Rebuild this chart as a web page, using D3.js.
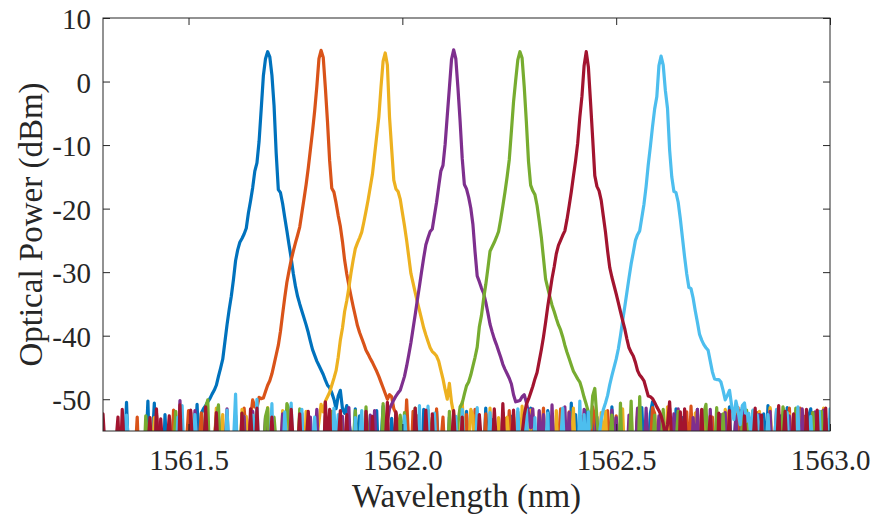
<!DOCTYPE html>
<html>
<head>
<meta charset="utf-8">
<script src="https://cdn.jsdelivr.net/npm/d3@7"></script>
<style>
  body { margin: 0; background: #fff; }
  svg { display: block; }
</style>
</head>
<body>
<svg id="chart" width="875" height="517"></svg>
<script>
// OSA sample spacing (nm)
const STEP = 0.005;

const xTicks = [1561.5, 1562.0, 1562.5, 1563.0];
const yTicks = [10, 0, -10, -20, -30, -40, -50];
const xTitle = "Wavelength (nm)";
const yTitle = "Optical Power (dBm)";

// Each channel trace is a list of [start wavelength (nm), power samples (dBm)] runs.
const ch1 = [
  [1561.300, [
    -63,-59,-66,-61,-58,-64,-60,-67,-57,-62,
    -59,-50.5,-60,-64,-58,-62,-66,-59,-63,-61,
    -58,-50.3,-62,-57,-50.6,-60,-65,-59,-62,-52.4,
    -60,-64,-58,-52.8,-61,-57,-63,-59,-65,-60,
    -58,-52.0,-62,-57,-50.8,-59,-52.2]],
  [1561.535, [
    -51.5,-51.0,-50.4,-49.9,-49.2,-48.6,-47.8,-46.4,-45.1,-43.7,
    -41.0,-38.3,-35.9,-33.8,-31.2,-28.2,-26.5,-25.3,-24.7,-24.0,
    -23.1,-20.7,-18.8,-16.7,-14.1,-12.8,-9.4,-4.3,0.9,3.6,
    4.7,
    3.9,1.0,-3.8,-11.3,-17.0,-17.5,-19.2,-21.4,-23.5,-25.7,
    -27.8,-30.2,-32.2,-33.8,-35.0,-36.1,-37.2,-38.3,-39.5,-40.9,
    -42.2,-43.1,-44.0,-44.7,-45.4,-46.1,-47.0,-47.8,-48.2,-49.0,
    -50.0,-51.5,-49.5,-48.6,-51.5,-52.2,-51.0,-53.5]],
  [1561.880, [
    -56,-61,-51.5,-59,-52.6,-57,-62,-58,-66,-60,
    -63,-59,-51.8,-61,-57,-51.1,-60,-58,-63,-53.0,
    -60,-52.3,-58,-62,-57,-61,-52.5,-64,-59,-62,
    -58,-53.2,-60,-63,-51.6,-59,-62,-57,-66,-61,
    -51.9,-58,-61,-57,-63,-60,-52.8,-65,-59,-62,
    -57,-61,-52.5,-58,-51.9,-60,-63,-59,-66,-58,
    -62,-57,-60,-51.4,-59,-63,-53.2,-58,-61,-64,
    -59,-52.1,-62,-57,-60,-52.7,-58,-63,-61,-57,
    -53.0,-60,-58,-62,-51.4,-59,-65,-61,-57,-63,
    -60,-58,-51.8,-53.4,-61,-59,-62,-57,-64,-60,
    -58,-63,-61,-50.6,-59,-52.4,-57,-62,-60,-58,
    -51.7,-61,-59,-52.0,-62,-57,-66,-60,-58,-63,
    -59,-61,-51.2,-58,-52.9,-60,-57,-62,-65,-59,
    -61,-58,-63,-57,-52.6,-60,-51.3,-59,-62,-58,
    -52.2,-50.4,-60,-57,-63,-61,-58,-65,-59,-62,
    -57,-60,-51.5,-58,-62,-52.9,-59,-66,-61,-57,
    -63,-59,-51.6,-61,-58,-52.7,-60,-57,-62,-65,
    -59,-61,-58,-63,-53.1,-60,-57,-51.2,-62,-58,
    -52.4,-60,-51.8,-59,-62,-57,-63,-61,-58,-66,
    -60,-57,-62,-52.3,-59,-51.0,-61,-58,-63,-57,
    -61,-52.6,-59,-62,-51.3,-58,-60,-64,-57,-63,
    -59,-62,-58,-61,-52.7,-51.5,-60,-57,-63,-59,
    -62,-58,-53.0,-61,-64]]
];

const ch2 = [
  [1561.300, [
    -61,-58,-64,-60,-66,-57,-62,-59,-65,-60,
    -58,-63,-61,-57,-64,-59,-52.8,-62,-66,-58,
    -60,-57,-63,-59,-61,-52.1,-58,-62,-60,-64,
    -57,-61,-59,-51.7,-63,-58,-53.3,-60,-62,-57,
    -51.8,-59,-61,-58,-63,-57,-52.2,-65,-60,-62,
    -58,-61,-57,-52.6,-59,-62,-66,-58,-60,-63,
    -57,-61,-52.5,-59,-64,-58,-51.4,-56]],
  [1561.640, [
    -56.0,-53.0,-50.1,-51.2,-51.4,-49.7,-49.9,-49.8,-48.8,-47.8,
    -47.1,-46.0,-44.5,-43.0,-41.5,-39.3,-36.6,-34.0,-31.6,-29.8,
    -28.1,-26.7,-25.4,-24.2,-22.9,-20.7,-18.5,-16.2,-13.6,-10.7,
    -7.8,-4.6,-0.8,3.6,
    4.9,
    3.8,-1.0,-6.4,-12.5,-16.8,-17.4,-19.1,-21.1,-22.8,-25.2,
    -28.1,-30.3,-32.1,-33.8,-35.4,-36.9,-38.4,-39.5,-40.4,-41.3,
    -42.3,-42.9,-43.6,-44.2,-44.9,-45.6,-46.4,-47.3,-48.2,-49.1,
    -50.0,-49.3,-49.6,-51.5,-52.2,-53.5,-55.5,-53.8,-58,-50.1,
    -57]],
  [1562.020, [
    -60,-51.9,-58,-52.6,-62,-57,-61,-59,-65,-60,
    -58,-63,-51.5,-61,-57,-52.8,-60,-59,-62,-66,
    -57,-61,-58,-63,-50.9,-60,-52.4,-59,-62,-58,
    -51.6,-57,-60,-62,-59,-52.3,-63,-58,-61,-66,
    -59,-62,-57,-60,-53.0,-58,-51.8,-61,-63,-59,
    -52.0,-58,-61,-57,-62,-60,-59,-52.9,-64,-58,
    -61,-57,-51.4,-63,-59,-62,-52.7,-58,-60,-57,
    -51.5,-61,-58,-62,-52.0,-59,-57,-63,-60,-65,
    -58,-62,-59,-61,-57,-51.2,-52.9,-60,-58,-63,
    -59,-61,-51.8,-57,-62,-58,-52.6,-60,-64,-59,
    -62,-57,-61,-58,-63,-60,-51.6,-53.1,-59,-62,
    -58,-61,-57,-51.3,-52.2,-60,-59,-62,-66,-58,
    -63,-51.4,-60,-57,-61,-59,-52.5,-58,-62,-52.0,
    -60,-51.1,-58,-61,-57,-63,-51.7,-59,-62,-60,
    -58,-52.8,-61,-57,-52.4,-62,-59,-66,-60,-58,
    -63,-57,-61,-51.3,-59,-52.6,-58,-62,-60,-57,
    -51.9,-59,-52.1,-61,-58,-63,-57,-60,-51.6,-64,
    -59,-62,-58,-61,-57,-52.5,-60,-51.4,-58,-63,
    -61,-57,-51.4,-59,-52.7,-60,-58,-62,-52.1,-57,
    -63,-60,-58,-51.8,-61,-59,-64]]
];

const ch3 = [
  [1561.300, [
    -62,-59,-65,-57,-61,-64,-58,-60,-66,-63,
    -57,-61,-59,-64,-58,-62,-60,-57,-65,-59,
    -61,-58,-63,-60,-52.9,-57,-62,-59,-64,-58,
    -60,-63,-57,-61,-52.9,-59,-51.7,-58,-62,-60,
    -57,-52.2,-59,-61,-58,-63,-60,-66,-57,-62,
    -59,-61,-58,-51.4,-60,-57,-52.4,-62,-59,-65,
    -58,-61,-63,-57,-60,-51.6,-59,-52.7,-58,-62,
    -52.1,-57,-61,-59,-63,-58,-60,-51.3,-64,-57,
    -62,-59,-58,-61,-51.8,-57,-52.8,-60,-63,-58,
    -61,-59,-52.5,-57,-62,-51.9,-60,-58,-65,-57]],
  [1561.800, [
    -56.0,-53.5,-50.8,-52.0,-50.3,-49.6,-48.9,-47.8,-46.7,-45.5,
    -43.4,-40.7,-38.8,-36.2,-34.5,-32.4,-30.1,-28.1,-26.3,-25.4,
    -24.6,-23.7,-22.1,-20.4,-18.6,-16.6,-14.6,-11.6,-8.6,-5.6,
    -0.9,3.2,
    4.5,
    2.6,-5.6,-10.6,-15.5,-16.9,-17.3,-18.5,-20.6,-22.7,-25.0,
    -27.6,-30.2,-31.7,-33.2,-34.7,-36.0,-37.4,-38.8,-39.9,-40.9,
    -41.9,-42.5,-42.8,-43.2,-44.0,-45.4,-46.8,-48.5,-50.0,-47.5,
    -50.5,-52.3,-54.8,-58,-56,-50.4,-57]],
  [1562.150, [
    -61,-58,-51.6,-52.5,-60,-57,-62,-59,-66,-58,
    -63,-51.4,-60,-57,-61,-52.9,-58,-62,-59,-52.8,
    -57,-61,-52.3,-58,-60,-63,-51.1,-59,-62,-57,
    -51.7,-60,-58,-61,-52.0,-66,-59,-62,-57,-60,
    -58,-63,-51.8,-61,-59,-52.6,-57,-62,-60,-58,
    -51.4,-59,-61,-57,-52.7,-63,-60,-58,-62,-66,
    -57,-61,-59,-52.1,-58,-51.9,-60,-63,-57,-62,
    -59,-61,-58,-51.5,-60,-57,-63,-52.4,-59,-62,
    -58,-52.8,-60,-57,-61,-59,-66,-62,-58,-63,
    -57,-52.8,-60,-59,-51.2,-58,-62,-61,-57,-65,
    -59,-62,-58,-60,-63,-57,-61,-52.2,-51.9,-59,
    -62,-58,-52.5,-60,-57,-61,-59,-63,-58,-62,
    -60,-51.6,-52.6,-57,-61,-59,-65,-58,-62,-60,
    -57,-63,-59,-61,-58,-52.9,-60,-51.9,-62,-57,
    -61,-59,-51.3,-58,-60,-63,-57,-62,-59,-61,
    -58,-52.3,-64,-60,-57,-62,-59,-51.7,-58,-61,
    -63,-57,-60,-59,-62,-52.6,-58,-51.4,-61,-57,
    -60]]
];

const ch4 = [
  [1561.300, [
    -60,-64,-57,-62,-59,-66,-58,-61,-63,-57,
    -61,-59,-65,-58,-62,-60,-57,-64,-59,-61,
    -58,-63,-60,-57,-62,-52.4,-59,-61,-58,-64,
    -60,-57,-63,-59,-61,-58,-50.2,-62,-60,-65,
    -57,-61,-59,-51.8,-58,-62,-60,-57,-63,-59,
    -61,-58,-66,-60,-52.6,-62,-57,-59,-51.5,-61,
    -58,-63,-60,-57,-62,-59,-52.7,-61,-58,-60,
    -51.9,-57,-61,-59,-63,-58,-52.9,-60,-62,-66,
    -57,-59,-61,-58,-52.3,-60,-62,-57,-59,-63,
    -61,-58,-60,-52.2,-65,-57,-62,-52.8,-61,-58,
    -51.6,-60,-57,-63,-59,-62,-58,-61,-66,-57,
    -60,-59,-52.7,-62,-58,-51.3,-61,-57,-60,-63,
    -59,-62,-58,-61,-57,-52.5,-60,-51.8,-59,-62,
    -58,-61]],
  [1561.960, [
    -57.0,-53.5,-51.5,-50.8,-50.1,-49.5,-49.0,-48.6,-47.5,-46.4,
    -44.8,-43.0,-41.1,-38.9,-36.7,-34.4,-32.2,-29.9,-27.7,-25.7,
    -24.6,-23.6,-23.2,-21.1,-19.0,-16.5,-14.1,-13.2,-9.9,-5.4,
    -1.0,3.5,
    5.0,
    3.6,-1.0,-6.2,-12.1,-16.2,-16.9,-18.2,-19.9,-22.5,-26.8,
    -30.6,-31.5,-32.5,-33.3,-34.7,-36.4,-38.2,-39.4,-40.5,-41.4,
    -42.4,-43.4,-44.5,-45.3,-46.0,-46.7,-47.6,-49.3,-50.4,-50.3,
    -50.2,-49.6,-49.3,-50.5,-52.2,-54.5,-51.5,-57]],
  [1562.315, [
    -60,-51.8,-58,-52.4,-61,-57,-62,-50.9,-59,-63,
    -57,-61,-58,-51.2,-60,-52.1,-62,-59,-66,-57,
    -61,-58,-51.6,-60,-63,-57,-62,-59,-52.8,-64,
    -58,-61,-57,-60,-62,-51.7,-59,-52.9,-58,-61,
    -57,-63,-60,-52.5,-58,-62,-59,-51.4,-57,-61,
    -60,-51.4,-58,-63,-59,-61,-57,-52.6,-60,-52.2,
    -62,-58,-61,-57,-52.3,-59,-51.5,-60,-63,-58,
    -61,-57,-62,-52.9,-59,-51.6,-60,-58,-61,-57,
    -63,-51.6,-59,-62,-58,-60,-52.4,-57,-52.1,-61,
    -59,-62,-58,-52.7,-60,-57,-51.3,-61,-59,-63,
    -58,-60,-62,-57,-52.4,-64,-59,-61,-58,-51.9,
    -60,-57,-51.8,-62,-59,-61,-58,-63,-52.6,-60,
    -57,-52.2,-59,-61,-51.5,-58,-62,-60,-57,-63,
    -52.0,-59,-61,-58,-51.7,-64,-60,-57]]
];

const ch5 = [
  [1561.300, [
    -63,-59,-61,-57,-64,-60,-58,-62,-66,-59,
    -57,-61,-58,-63,-60,-65,-59,-62,-57,-61,
    -52.6,-58,-60,-57,-62,-59,-63,-61,-58,-66,
    -60,-57,-62,-59,-51.9,-58,-61,-57,-63,-60,
    -59,-62,-58,-65,-61,-57,-60,-58,-51.3,-50.1,
    -62,-59,-57,-53.0,-50.9,-60,-64,-58,-61,-57,
    -63,-59,-62,-58,-60,-52.2,-57,-61,-59,-64,
    -58,-62,-60,-57,-63,-59,-52.7,-51.4,-61,-58,
    -52.8,-57,-60,-59,-62,-58,-50.7,-51.6,-63,-57,
    -61,-59,-51.5,-58,-60,-62,-57,-64,-59,-61,
    -58,-63,-57,-60,-52.6,-62,-59,-51.9,-58,-61,
    -57,-52.4,-60,-59,-62,-58,-61,-57,-51.8,-63,
    -59,-60,-58,-51.2,-57,-62,-61,-59,-64,-58,
    -60,-50.7,-57,-62,-59,-61,-63,-58,-60,-52.5,
    -57,-52.1,-59,-61,-58,-62,-51.4,-60,-57,-63,
    -59,-61,-51.7,-58,-52.9,-60,-57,-62,-59,-64,
    -58,-61,-51.9,-60,-57]],
  [1562.125, [
    -57.0,-53.8,-51.2,-50.6,-49.2,-47.9,-47.3,-46.2,-44.8,-43.4,
    -41.8,-38.6,-36.8,-34.2,-32.0,-29.4,-26.7,-26.0,-25.3,-24.5,
    -23.6,-21.7,-19.6,-17.4,-15.0,-12.3,-7.8,-3.2,0.2,3.4,
    4.7,
    3.7,-0.8,-6.4,-12.6,-16.3,-17.2,-17.8,-19.5,-21.9,-24.5,
    -27.8,-31.1,-32.5,-33.9,-35.2,-36.2,-37.3,-38.3,-39.1,-40.2,
    -41.5,-42.6,-43.6,-44.6,-45.6,-46.2,-46.8,-47.3,-48.4,-49.7,
    -50.8,-52.0,-54.5,-49.5,-48.3,-53.0,-57]],
  [1562.465, [
    -59,-62,-58,-61,-57,-52.5,-60,-58,-63,-50.6,
    -60,-57,-62,-59,-50.3,-61,-58,-64,-49.6,-60,
    -57,-62,-59,-61,-58,-52.5,-63,-60,-57,-51.6,
    -59,-61,-58,-62,-60,-57,-51.9,-64,-59,-61,
    -58,-63,-60,-57,-62,-59,-61,-58,-52.2,-50.8,
    -60,-57,-62,-59,-51.3,-58,-61,-52.3,-60,-57,
    -63,-59,-61,-58,-62,-60,-52.8,-57,-51.7,-61,
    -59,-51.8,-58,-60,-57,-62,-61,-59,-52.8,-63,
    -58,-60,-57,-61,-59,-51.2,-52.6,-58,-62,-60,
    -57,-51.4,-61,-59,-63,-58,-60,-57,-62,-52.1,
    -59,-61,-58,-51.9,-60,-57,-62,-59]]
];

const ch6 = [
  [1561.300, [
    -52.3,-58,-63,-60,-66,-59,-57,-52.8,-61,-51.6,
    -58,-62,-59,-64,-57,-61,-60,-65,-58,-62,
    -59,-57,-52.9,-61,-63,-51.5,-60,-53.1,-58,-62,
    -57,-52.6,-59,-61,-58,-63,-50.9,-60,-57,-62,
    -59,-51.7,-58,-61,-57,-60,-63,-59,-51.2,-58,
    -62,-57,-60,-52.1,-59,-61,-58,-66,-57,-62,
    -60,-59,-63,-58,-61,-52.2,-57,-62,-60,-51.5,
    -58,-61,-51.4,-59,-63,-57,-60,-62,-58,-52.8,
    -59,-61,-57,-63,-60,-58,-62,-59,-51.6,-57,
    -61,-58,-52.3,-60,-62,-57,-51.9,-59,-61,-58,
    -63,-60,-57,-62,-50.4,-58,-51.6,-61,-59,-64,
    -57,-51.8,-62,-58,-52.4,-61,-59,-63,-57,-60,
    -62,-58,-64,-51.9,-59,-61,-52.7,-60,-63,-58,
    -61,-59,-57,-50.5,-62,-60,-58,-52.0,-59,-61,
    -57,-63,-60,-58,-62,-59,-51.4,-57,-61,-60,
    -58,-51.7,-59,-64,-52.3,-60,-57,-61,-58,-63,
    -59,-60,-62,-57,-51.8,-58,-61,-59,-52.8,-62,
    -57,-60,-63,-58,-61,-59,-52.4,-57,-62,-60,
    -58,-61,-59,-51.5,-57,-62,-60,-50.7,-58,-61,
    -63,-57,-51.7,-60,-58,-62]],
  [1562.280, [
    -55.5,-52.5,-50.8,-50.0,-49.0,-48.0,-46.8,-45.8,-44.0,-42.2,
    -40.2,-37.9,-35.4,-33.2,-31.0,-29.2,-27.1,-25.8,-25.0,-24.2,
    -23.5,-21.7,-19.6,-17.4,-14.9,-12.5,-9.7,-5.6,-2.3,2.5,
    4.7,
    2.3,-3.2,-8.9,-14.8,-16.5,-17.2,-18.7,-21.2,-23.7,-26.7,
    -29.3,-30.8,-32.1,-33.4,-34.8,-36.2,-37.6,-38.9,-40.5,-41.9,
    -42.6,-43.2,-44.2,-45.5,-46.2,-46.6,-47.1,-48.3,-49.5,-49.6,
    -49.9,-50.5,-51.2,-51.8,-52.6,-53.8,-56,-54,-50.4,-57]],
  [1562.635, [
    -60,-57,-62,-52.0,-59,-51.5,-58,-61,-57,-63,
    -60,-58,-62,-51.6,-59,-61,-57,-52.7,-58,-60,
    -63,-52.2,-61,-59,-62,-58,-51.8,-64,-60,-57,
    -61,-59,-63,-52.6,-58,-62,-60,-57,-51.4,-59,
    -61,-52.5,-62,-57,-60,-63,-59,-61,-58,-51.0,
    -60,-57,-51.9,-59,-62,-58,-52.3,-61,-57,-63,
    -59,-60,-51.6,-58,-62,-57,-61,-51.7,-60,-64,
    -58,-51.4,-61,-57]]
];

const ch7 = [
  [1561.300, [
    -61,-58,-64,-60,-57,-63,-59,-62,-66,-58,
    -60,-52.5,-57,-61,-64,-59,-62,-58,-60,-57,
    -63,-59,-61,-58,-65,-60,-57,-62,-59,-64,
    -58,-61,-60,-57,-62,-52.8,-58,-51.0,-60,-63,
    -59,-61,-57,-52.4,-58,-62,-60,-59,-66,-57,
    -61,-58,-63,-60,-57,-62,-59,-61,-51.7,-58,
    -60,-57,-49.2,-61,-58,-63,-59,-62,-57,-60,
    -52.5,-58,-50.0,-61,-59,-57,-62,-60,-58,-50.7,
    -63,-59,-61,-57,-60,-52.0,-58,-62,-50.6,-60,
    -57,-61,-59,-51.6,-63,-58,-60,-62,-57,-52.8,
    -59,-61,-58,-63,-60,-57,-62,-59,-51.4,-58,
    -52.4,-61,-57,-60,-62,-59,-58,-63,-52.9,-61,
    -57,-51.8,-60,-58,-62,-59,-61,-57,-65,-60,
    -58,-62,-59,-52.3,-61,-57,-63,-60,-58,-62,
    -59,-52.6,-57,-61,-60,-58,-63,-59,-51.0,-62,
    -57,-60,-51.1,-61,-58,-52.2,-59,-62,-57,-60,
    -63,-58,-61,-59,-57,-52.7,-62,-60,-51.6,-58,
    -61,-57,-59,-63,-60,-51.3,-58,-62,-57,-61,
    -59,-52.1,-58,-60,-62,-57,-61,-52.5,-59,-63,
    -58,-60,-57,-62,-51.5,-59,-61,-58,-51.6,-60,
    -57,-63,-52.9,-61,-58,-62,-60,-57,-52.2,-64,
    -59,-61,-58,-62,-57,-51.4,-60,-63,-59,-61,
    -58,-57,-62,-50.3,-60,-52.4,-59,-52.0,-61,-58,
    -62,-57]],
  [1562.460, [
    -56.0,-53.2,-51.6,-50.6,-49.4,-47.7,-46.3,-45.0,-43.7,-42.1,
    -40.0,-37.7,-35.5,-33.2,-30.9,-28.7,-26.9,-25.0,-24.1,-23.5,
    -21.4,-19.3,-16.5,-13.1,-10.2,-7.1,-4.3,-2.4,2.5,
    4.0,
    2.6,-1.4,-4.2,-10.8,-15.0,-17.3,-17.5,-19.0,-21.6,-24.6,
    -27.6,-30.3,-32.4,-32.6,-34.1,-36.1,-37.9,-39.8,-40.7,-41.4,
    -41.9,-42.3,-44.0,-45.7,-46.8,-46.9,-46.9,-47.3,-48.6,-50.1,
    -49.4,-48.6,-51.0,-53.2,-50.3,-51.8,-54.0,-51.0,-50.6,-53.5,
    -52.2,-55.5,-51.7,-54.8,-52.5,-56.0,-53.0,-57.0]],
  [1562.850, [
    -60,-52.4,-58,-62,-57,-51.6,-61,-59,-64,-58,
    -52.1,-60,-57,-62,-59,-51.2,-61,-58,-63,-57,
    -60,-52.7,-59,-62,-58,-51.9,-61,-57,-64,-60,
    -51.5]]
];

// Line colours, in plotting order (later traces sit on top)
const traces = [ch1, ch2, ch3, ch4, ch5, ch7, ch6];
const traceColors = ["#0072BD", "#D95319", "#EDB120", "#7E2F8E", "#77AC30", "#4DBEEE", "#A2142F"];

const W = 875, H = 517;
const margin = { left: 103, right: 45, top: 18, bottom: 86 };
const plotW = W - margin.left - margin.right;
const plotH = H - margin.top - margin.bottom;

const svg = d3.select("#chart");
const axisColor = "#262626";
const fontFamily = "'Liberation Serif', 'Times New Roman', Times, serif";

const x = d3.scaleLinear().domain([1561.3, 1563.0]).range([0, plotW]);
const y = d3.scaleLinear().domain([-55, 10]).range([plotH, 0]);

const g = svg.append("g").attr("transform", `translate(${margin.left},${margin.top})`);

g.append("defs").append("clipPath").attr("id", "plot-clip")
  .append("rect").attr("x", 0).attr("y", 0).attr("width", plotW).attr("height", plotH);

// Spectra
const line = d3.line().x(d => x(d[0])).y(d => y(d[1]));
const toPoints = trace => trace.flatMap(([start, vals]) => vals.map((v, j) => [start + j * STEP, v]));

g.append("g").attr("clip-path", "url(#plot-clip)")
  .selectAll("path")
  .data(traces)
  .join("path")
  .attr("d", t => line(toPoints(t)))
  .attr("fill", "none")
  .attr("stroke", (t, i) => traceColors[i])
  .attr("stroke-width", 3.2)
  .attr("stroke-linejoin", "round")
  .attr("stroke-linecap", "round");

// Axes (ticks point inward on all four sides)
const styleAxis = sel => {
  sel.select(".domain").remove();
  sel.selectAll(".tick line").attr("stroke", axisColor).attr("stroke-width", 1);
  sel.selectAll(".tick text").attr("fill", axisColor).attr("font-family", fontFamily).attr("font-size", 29);
};

g.append("g").attr("transform", `translate(0,${plotH})`)
  .call(d3.axisBottom(x).tickValues(xTicks).tickFormat(d3.format(".1f")).tickSizeInner(-7).tickSizeOuter(0))
  .call(styleAxis)
  .call(s => s.selectAll(".tick text").attr("y", 39).attr("dy", 0));

g.append("g")
  .call(d3.axisTop(x).tickValues(xTicks).tickFormat("").tickSizeInner(-7).tickSizeOuter(0))
  .call(styleAxis);

g.append("g")
  .call(d3.axisLeft(y).tickValues(yTicks).tickFormat(d3.format("d")).tickSizeInner(-7).tickSizeOuter(0))
  .call(styleAxis)
  .call(s => s.selectAll(".tick text").attr("x", -12).attr("dy", "0.37em")
    .text(d => (d < 0 ? "-" + Math.abs(d) : String(d))));

g.append("g").attr("transform", `translate(${plotW},0)`)
  .call(d3.axisRight(y).tickValues(yTicks).tickFormat("").tickSizeInner(-7).tickSizeOuter(0))
  .call(styleAxis);

// Box
g.append("rect")
  .attr("x", 0).attr("y", 0).attr("width", plotW).attr("height", plotH)
  .attr("fill", "none").attr("stroke", axisColor).attr("stroke-width", 1);

// Axis titles
svg.append("text")
  .attr("x", margin.left + plotW / 2).attr("y", 507)
  .attr("text-anchor", "middle")
  .attr("font-family", fontFamily).attr("font-size", 33).attr("fill", axisColor)
  .text(xTitle);

svg.append("text")
  .attr("transform", `translate(42,${margin.top + plotH / 2}) rotate(-90)`)
  .attr("text-anchor", "middle")
  .attr("font-family", fontFamily).attr("font-size", 33).attr("fill", axisColor)
  .text(yTitle);
</script>
</body>
</html>
